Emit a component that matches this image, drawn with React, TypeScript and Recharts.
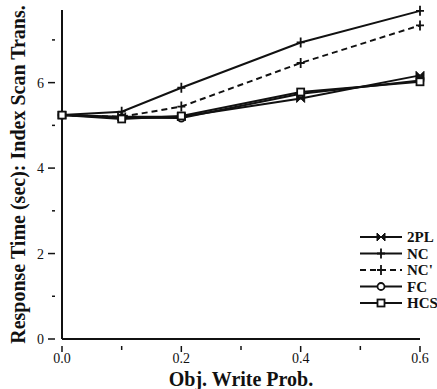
import React from 'react';
import { LineChart, Line, XAxis, YAxis } from 'recharts';

const probs = [0, 0.1, 0.2, 0.4, 0.6];
const twoPL = [5.24, 5.2, 5.2, 5.63, 6.17];
const nc = [5.24, 5.32, 5.88, 6.94, 7.68];
const ncPrime = [5.24, 5.2, 5.44, 6.46, 7.34];
const fc = [5.24, 5.18, 5.17, 5.74, 6.05];
const hcs = [5.24, 5.15, 5.22, 5.78, 6.02];

const xTicks = [0, 0.1, 0.2, 0.3, 0.4, 0.5, 0.6];
const yTicks = [0, 1, 2, 3, 4, 5, 6, 7];

const data = probs.map((p, i) => ({
  p,
  twoPL: twoPL[i],
  nc: nc[i],
  ncPrime: ncPrime[i],
  fc: fc[i],
  hcs: hcs[i],
}));

const INK = '#111';
const FONT = '"Liberation Serif", "DejaVu Serif", serif';

type Shape = 'bowtie' | 'plus' | 'circle' | 'square';

const Marker = ({ cx, cy, shape }: { cx: number; cy: number; shape: Shape }) => {
  if (cx == null || cy == null) return null;
  if (shape === 'bowtie')
    return (
      <path
        d={`M${cx - 4},${cy - 4} L${cx + 4},${cy + 4} L${cx + 4},${cy - 4} L${cx - 4},${cy + 4} Z`}
        fill={INK}
        stroke={INK}
        strokeWidth={1}
      />
    );
  if (shape === 'plus')
    return (
      <path
        d={`M${cx - 4},${cy} L${cx + 4},${cy} M${cx},${cy - 5} L${cx},${cy + 5}`}
        stroke={INK}
        strokeWidth={1.8}
      />
    );
  if (shape === 'circle')
    return <circle cx={cx} cy={cy} r={3.5} fill="#fff" stroke={INK} strokeWidth={1.8} />;
  return <rect x={cx - 3.5} y={cy - 3.5} width={7} height={7} fill="#fff" stroke={INK} strokeWidth={1.8} />;
};

const series: { key: string; name: string; shape: Shape; dash?: string }[] = [
  { key: 'twoPL', name: '2PL', shape: 'bowtie' },
  { key: 'nc', name: 'NC', shape: 'plus' },
  { key: 'ncPrime', name: "NC'", shape: 'plus', dash: '6 4' },
  { key: 'fc', name: 'FC', shape: 'circle' },
  { key: 'hcs', name: 'HCS', shape: 'square' },
];

const XTick = (props: any) => {
  const { x, y, payload } = props;
  const major = Math.round(payload.value * 10) % 2 === 0;
  return (
    <g>
      <line x1={x} y1={y - 1} x2={x} y2={y + (major ? 5 : 3)} stroke={INK} strokeWidth={1.5} />
      {major && (
        <text x={x} y={y + 16} textAnchor="middle" fontFamily={FONT} fontSize={14} fill={INK}>
          {payload.value.toFixed(1)}
        </text>
      )}
    </g>
  );
};

const YTick = (props: any) => {
  const { x, y, payload } = props;
  const major = payload.value % 2 === 0;
  return (
    <g>
      <line x1={x + 1} y1={y} x2={x - (major ? 6 : 2)} y2={y} stroke={INK} strokeWidth={1.5} />
      {major && (
        <text x={x - 10} y={y + 5} textAnchor="end" fontFamily={FONT} fontSize={14} fill={INK}>
          {payload.value}
        </text>
      )}
    </g>
  );
};

const YLabel = (props: any) => {
  const vb = props.viewBox || {};
  const cy = (vb.y ?? 10) + (vb.height ?? 329) / 2;
  return (
    <text
      x={25}
      y={cy}
      transform={`rotate(-90, 25, ${cy})`}
      textAnchor="middle"
      fontFamily={FONT}
      fontSize={20}
      fontWeight="bold"
      fill={INK}
    >
      Response Time (sec): Index Scan Trans.
    </text>
  );
};

const LegendBox = () => (
  <svg width={80} height={90} style={{ position: 'absolute', left: 358, top: 229 }}>
    {series.map((s, i) => {
      const y = 8 + i * 16.5;
      return (
        <g key={s.key}>
          <line x1={2} y1={y} x2={44} y2={y} stroke={INK} strokeWidth={1.8} strokeDasharray={s.dash} />
          <Marker cx={23} cy={y} shape={s.shape} />
          <text x={49} y={y + 5} fontFamily={FONT} fontSize={15} fontWeight="bold" fill={INK}>
            {s.name}
          </text>
        </g>
      );
    })}
  </svg>
);

export default function App() {
  return (
    <div style={{ position: 'absolute', left: 0, top: 0, width: 437, height: 389, background: '#fff' }}>
      <LineChart width={437} height={389} data={data} margin={{ top: 10, right: 17, bottom: 0, left: 0 }}>
        <XAxis
          dataKey="p"
          type="number"
          domain={[0, 0.6]}
          ticks={xTicks}
          tick={<XTick />}
          tickLine={false}
          axisLine={{ stroke: INK, strokeWidth: 2 }}
          height={50}
          label={{
            value: 'Obj. Write Prob.',
            position: 'insideBottom',
            offset: 3,
            style: { fontFamily: FONT, fontSize: 20, fontWeight: 'bold', fill: INK },
          }}
        />
        <YAxis
          type="number"
          domain={[0, 7.7]}
          ticks={yTicks}
          tick={<YTick />}
          tickLine={false}
          axisLine={{ stroke: INK, strokeWidth: 2 }}
          width={62}
          label={<YLabel />}
        />
        {series.map((s) => (
          <Line
            key={s.key}
            dataKey={s.key}
            name={s.name}
            stroke={INK}
            strokeWidth={2}
            strokeDasharray={s.dash}
            dot={(p: any) => <Marker key={`${s.key}-${p.index}`} cx={p.cx} cy={p.cy} shape={s.shape} />}
            activeDot={false}
            isAnimationActive={false}
          />
        ))}
      </LineChart>
      <LegendBox />
    </div>
  );
}
